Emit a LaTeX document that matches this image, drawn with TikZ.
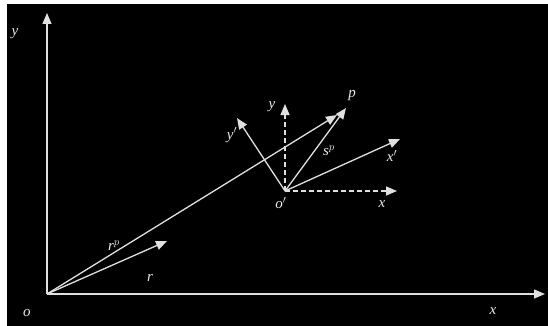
\documentclass[tikz,border=0pt]{standalone}
\usepackage{fontspec}
\setmainfont{Liberation Serif}
\usetikzlibrary{arrows.meta}
\definecolor{ln}{gray}{0.88}
\definecolor{tx}{gray}{0.92}
\begin{document}
\begin{tikzpicture}[x=1pt,y=-1pt,
  vec/.style={draw=ln,line width=1.3pt,-{Triangle[length=11pt,width=9pt]}},
  dvec/.style={vec,dash pattern=on 5pt off 3pt},
  lbl/.style={text=tx,font=\fontsize{15}{17}\selectfont\itshape,inner sep=0pt}]
\useasboundingbox (0,0) rectangle (548,326);
\fill[white] (0,0) rectangle (548,326);
\fill[black] (7,4) rectangle (548,326);
% points
\coordinate (O) at (47,294);
\coordinate (Ytop) at (47,13);
\coordinate (Xend) at (545,294);
\coordinate (Op) at (285,191);
\coordinate (dY) at (285,104);
\coordinate (dX) at (397,191);
\coordinate (yp) at (237,118);
\coordinate (xp) at (400,139);
\coordinate (P) at (346,108);
\coordinate (RP) at (337,115);
\coordinate (R) at (167,241);
% axes
\draw[vec] (O) -- (Ytop);
\draw[vec] (O) -- (Xend);
% vectors
\draw[vec] (O) -- (RP);
\draw[vec] (O) -- (R);
\draw[dvec] (Op) -- (dY);
\draw[dvec] (Op) -- (dX);
\draw[vec] (Op) -- (yp);
\draw[vec] (Op) -- (xp);
\draw[vec] (Op) -- (P);
% labels
\node[lbl] (ly) at (15,34) {y};
\node[lbl] (lo) at (27,313) {o};
\node[lbl] (lx) at (493,311) {x};
\node[lbl] (lp) at (352,96) {p};
\node[lbl] (ldy) at (272,107) {y};
\node[lbl] (lyp) at (232,135) {y$'$};
\node[lbl] (lsp) at (329,151) {s$^{p}$};
\node[lbl] (lxp) at (392,156) {x$'$};
\node[lbl] (lop) at (281,203) {o$'$};
\node[lbl] (ldx) at (382,204) {x};
\node[lbl] (lrp) at (114,246) {r$^{p}$};
\node[lbl] (lr) at (150,278) {r};
\end{tikzpicture}
\end{document}
